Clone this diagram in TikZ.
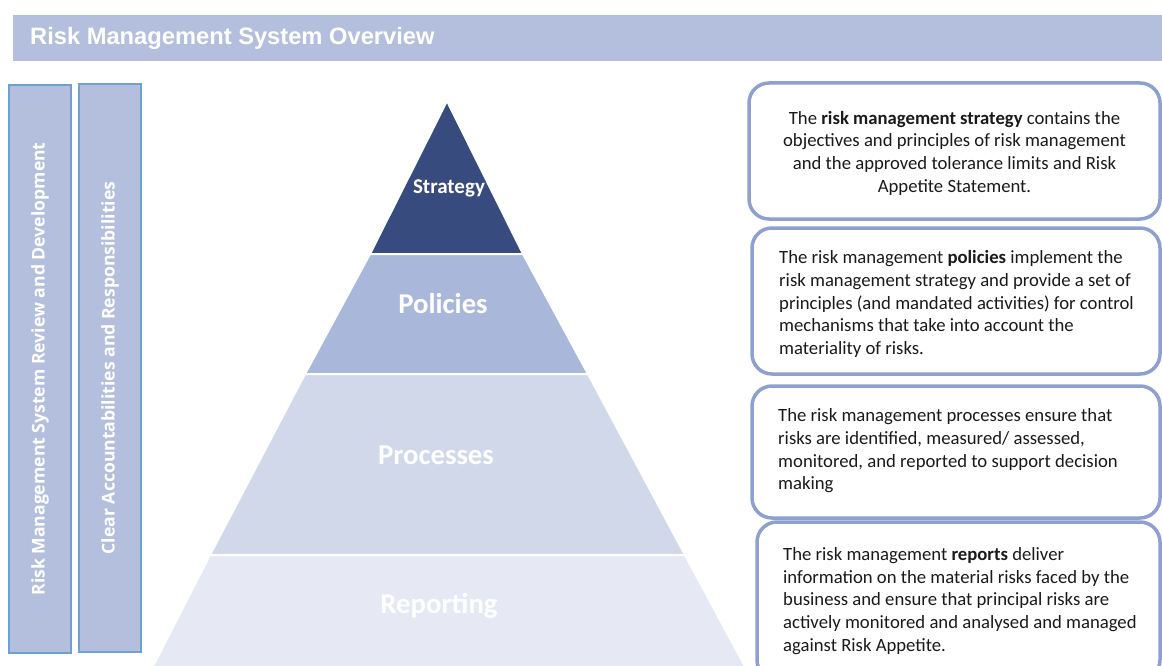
\documentclass[tikz,border=0pt]{standalone}
\usepackage{fontspec}
\setmainfont{Carlito}
\newfontfamily\headfont{Liberation Sans}
\newfontfamily\sidefont{Open Sans}
\usetikzlibrary{positioning}
\definecolor{headblue}{HTML}{B4BFDE}
\definecolor{sideline}{HTML}{6FA0D4}
\definecolor{stratblue}{HTML}{374B7F}
\definecolor{polblue}{HTML}{A9B7DA}
\definecolor{procblue}{HTML}{D0D8EA}
\definecolor{repblue}{HTML}{E6E9F4}
\definecolor{boxline}{HTML}{8DA0D0}
\definecolor{textgrey}{HTML}{1A1A1A}
\tikzset{
  sidebar/.style={draw=sideline, line width=1.6pt, fill=headblue, minimum width=62pt, minimum height=568pt, inner sep=0pt},
  sidetext/.style={rotate=90, text=white, font=\sidefont\bfseries\fontsize{17.6}{20}\selectfont},
  layer/.style={draw=white, line width=2pt},
  layerlabel/.style={text=white, font=\bfseries\fontsize{28.7}{32}\selectfont},
  descbox/.style={draw=boxline, line width=3.5pt, rounded corners=20pt, fill=white, inner sep=0pt, outer sep=0pt},
  desctext/.style={inner sep=0pt, text=textgrey, font=\fontsize{18.7}{22.7}\selectfont}
}
\begin{document}
\begin{tikzpicture}[x=1pt,y=-1pt]
\useasboundingbox[fill=white] (0,0) rectangle (1162,666);

\node(header) [fill=headblue, minimum width=1149pt, minimum height=46pt, inner sep=0pt, anchor=north west] at (13,15) {};
\node(title) [anchor=west, inner sep=0pt, text=white, font=\headfont\bfseries\fontsize{23.7}{26}\selectfont]
  at ([xshift=17pt]header.west) {Risk Management System Overview};

\node(revbar) [sidebar] at (40,369) {};
\node(accbar) [sidebar] at (110,368) {};
\node(revtext) [sidetext] at (revbar) {Risk Management System Review and Development};
\node(acctext) [sidetext] at (accbar) {Clear Accountabilities and Responsibilities};

\coordinate(apex) at (447,101);
\coordinate(sl) at (370,254);
\coordinate(sr) at (523,254);
\coordinate(pl) at (305,374);
\coordinate(pr) at (588,374);
\coordinate(ql) at (210,555);
\coordinate(qr) at (685,555);
\coordinate(rl) at (150,672);
\coordinate(rr) at (748,672);

\filldraw[layer, fill=stratblue] (apex) -- (sr) -- (sl) -- cycle;
\filldraw[layer, fill=polblue] (sl) -- (sr) -- (pr) -- (pl) -- cycle;
\filldraw[layer, fill=procblue] (pl) -- (pr) -- (qr) -- (ql) -- cycle;
\filldraw[layer, fill=repblue] (ql) -- (qr) -- (rr) -- (rl) -- cycle;

\node(strategy)  [layerlabel, font=\bfseries\fontsize{21}{24}\selectfont] at (449,188) {Strategy};
\node(policies)  [layerlabel] at (443,304) {Policies};
\node(processes) [layerlabel] at (436,455) {Processes};
\node(reporting) [layerlabel] at (439,606) {Reporting};

\node(stratbox) [descbox, minimum width=411pt, minimum height=136pt] at (954.5,151) {};
\node(polbox)   [descbox, minimum width=408pt, minimum height=146pt] at (956,301) {};
\node(procbox)  [descbox, minimum width=408pt, minimum height=132pt] at (956,452) {};
\node(repbox)   [descbox, minimum width=403pt, minimum height=158pt] at (958.5,601) {};

\node(strattext) [desctext, align=center] at ([yshift=-2pt]stratbox.center)
{The \textbf{risk management strategy} contains the\\
objectives and principles of risk management\\
and the approved tolerance limits and Risk\\
Appetite Statement.};
\node(poltext) [desctext, align=left, anchor=west] at ([xshift=27pt,yshift=-3pt]polbox.west)
{The risk management \textbf{policies} implement the\\
risk management strategy and provide a set of\\
principles (and mandated activities) for control\\
mechanisms that take into account the\\
materiality of risks.};
\node(proctext) [desctext, align=left, anchor=west] at ([xshift=26pt,yshift=1pt]procbox.west)
{The risk management processes ensure that\\
risks are identified, measured/ assessed,\\
monitored, and reported to support decision\\
making};
\node(reptext) [desctext, align=left, anchor=west] at ([xshift=26pt]repbox.west)
{The risk management \textbf{reports} deliver\\
information on the material risks faced by the\\
business and ensure that principal risks are\\
actively monitored and analysed and managed\\
against Risk Appetite.};
\end{tikzpicture}
\end{document}
